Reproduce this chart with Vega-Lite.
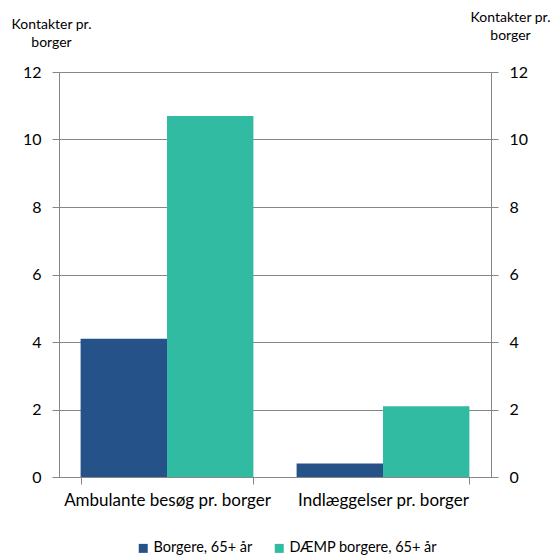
{
  "$schema": "https://vega.github.io/schema/vega-lite/v6.json",
  "width": 432,
  "height": 405,
  "autosize": {"type": "none"},
  "padding": {"left": 59, "top": 72, "right": 64, "bottom": 82},
  "background": "white",
  "config": {
    "font": "Lato",
    "view": {"stroke": null},
    "axis": {
      "domainColor": "#868686",
      "gridColor": "#868686",
      "tickColor": "#868686",
      "labelColor": "#000000",
      "labelFont": "Lato",
      "titleFont": "Lato",
      "titleColor": "#000000",
      "titleFontWeight": "normal"
    }
  },
  "data": {
    "values": [
      {"kategori": "Ambulante besøg pr. borger", "gruppe": "Borgere, 65+ år", "kontakter": 4.1},
      {"kategori": "Ambulante besøg pr. borger", "gruppe": "DÆMP borgere, 65+ år", "kontakter": 10.7},
      {"kategori": "Indlæggelser pr. borger", "gruppe": "Borgere, 65+ år", "kontakter": 0.4},
      {"kategori": "Indlæggelser pr. borger", "gruppe": "DÆMP borgere, 65+ år", "kontakter": 2.1}
    ]
  },
  "encoding": {
    "x": {
      "field": "kategori",
      "type": "nominal",
      "sort": null,
      "scale": {"paddingInner": 0.2, "paddingOuter": 0.1},
      "axis": {
        "title": null,
        "labelAngle": 0,
        "labelFontSize": 17,
        "labelLimit": 0,
        "labelPadding": 8,
        "tickBand": "extent",
        "tickSize": 7,
        "domainColor": "#868686"
      }
    },
    "xOffset": {"field": "gruppe", "type": "nominal", "sort": null}
  },
  "layer": [
    {
      "mark": {"type": "bar"},
      "encoding": {
        "y": {
          "field": "kontakter",
          "type": "quantitative",
          "scale": {"domain": [0, 12]},
          "axis": {
            "orient": "left",
            "values": [0, 2, 4, 6, 8, 10, 12],
            "grid": true,
            "domain": true,
            "tickSize": 7,
            "labelFontSize": 16,
            "labelPadding": 11,
            "title": ["Kontakter pr.", "borger"],
            "titleFontSize": 14,
            "titleAngle": 0,
            "titleAlign": "center",
            "titleBaseline": "top",
            "titleLineHeight": 18,
            "titleX": -8,
            "titleY": -55
          }
        },
        "color": {
          "field": "gruppe",
          "type": "nominal",
          "sort": null,
          "scale": {"range": ["#245289", "#31BBA3"]},
          "legend": {
            "title": null,
            "orient": "none",
            "direction": "horizontal",
            "legendX": 77,
            "legendY": 469,
            "symbolType": "square",
            "symbolSize": 81,
            "symbolStrokeWidth": 0,
            "symbolOpacity": 1,
            "labelFontSize": 14.5,
            "labelLimit": 0,
            "labelOffset": 3,
            "columnPadding": 19,
            "labelColor": "#000000"
          }
        }
      }
    },
    {
      "mark": {"type": "bar", "opacity": 0},
      "encoding": {
        "y": {
          "field": "kontakter",
          "type": "quantitative",
          "scale": {"domain": [0, 12]},
          "axis": {
            "orient": "right",
            "values": [0, 2, 4, 6, 8, 10, 12],
            "grid": false,
            "domain": true,
            "tickSize": 7,
            "labelFontSize": 16,
            "labelPadding": 11,
            "title": ["Kontakter pr.", "borger"],
            "titleFontSize": 14,
            "titleAngle": 0,
            "titleAlign": "center",
            "titleBaseline": "top",
            "titleLineHeight": 18,
            "titleX": 19,
            "titleY": -62
          }
        }
      }
    }
  ],
  "resolve": {"axis": {"y": "independent"}}
}
